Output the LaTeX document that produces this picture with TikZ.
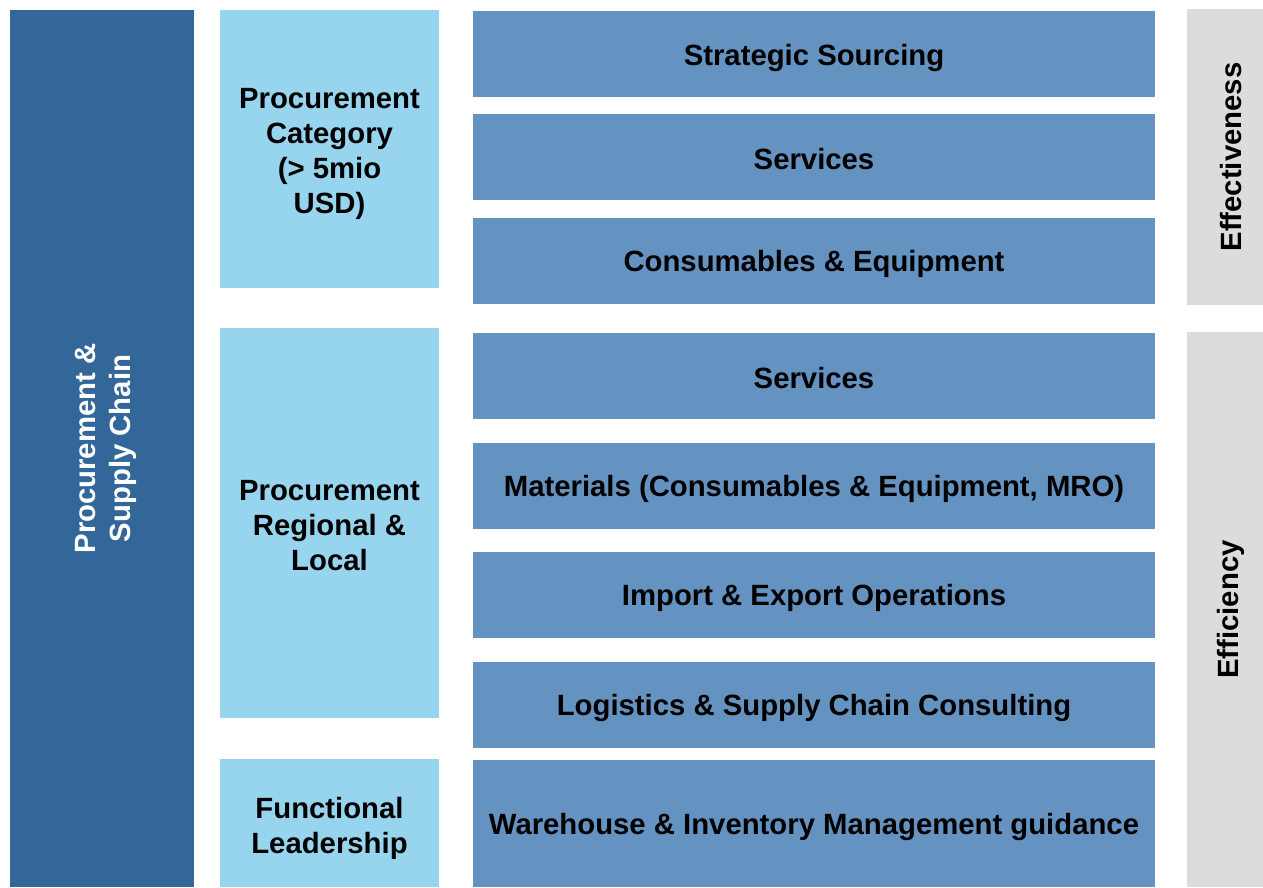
\documentclass[tikz,border=0pt]{standalone}
\usepackage{fontspec}
\setmainfont{Liberation Sans}
\definecolor{darkblue}{HTML}{336699}
\definecolor{lightblue}{HTML}{97D5EF}
\definecolor{midblue}{HTML}{6593C1}
\definecolor{greybox}{HTML}{DCDCDC}
\begin{document}
\begin{tikzpicture}[x=1pt,y=-1pt,
  base/.style={inner sep=0pt, outer sep=0pt, draw=none, align=center,
    font=\fontsize{29.3}{35}\selectfont\bfseries},
  pillar/.style={base, fill=darkblue},
  group/.style={base, fill=lightblue, anchor=north west, minimum width=219pt},
  item/.style={base, fill=midblue, anchor=north west, minimum width=682pt},
  side/.style={base, fill=greybox, anchor=north west, minimum width=76pt},
  lbl/.style={base, text=black},
  vlabel/.style={base, rotate=90}]
\useasboundingbox (0,0) rectangle (1263,887);
% left pillar
\node[pillar, anchor=north west, minimum width=184pt, minimum height=877pt] (pil) at (10,10) {};
\node[vlabel, text=white] (pilt) at ([xshift=4pt]pil.center) {Procurement \&\\Supply Chain};
% groups
\node[group, minimum height=278pt] (g1) at (220,10) {};
\node[lbl] (g1t) at ([yshift=-5pt]g1.center) {Procurement\\Category\\(> 5mio\\USD)};
\node[group, minimum height=390pt] (g2) at (220,328) {};
\node[lbl] (g2t) at ([yshift=-3pt]g2.center) {Procurement\\Regional \&\\Local};
\node[group, minimum height=128pt] (g3) at (220,759) {};
\node[lbl] (g3t) at ([yshift=-5pt]g3.center) {Functional\\Leadership};
% items
\node[item, minimum height=86pt] (i1) at (473,11) {};
\node[lbl] (i1t) at ([yshift=-4pt]i1.center) {Strategic Sourcing};
\node[item, minimum height=86pt] (i2) at (473,114) {};
\node[lbl] (i2t) at ([yshift=-2pt]i2.center) {Services};
\node[item, minimum height=86pt] (i3) at (473,218) {};
\node[lbl] (i3t) at ([yshift=-3pt]i3.center) {Consumables \& Equipment};
\node[item, minimum height=86pt] (i4) at (473,333) {};
\node[lbl] (i4t) at ([yshift=-2pt]i4.center) {Services};
\node[item, minimum height=86pt] (i5) at (473,443) {};
\node[lbl] (i5t) at ([yshift=-3pt]i5.center) {Materials (Consumables \& Equipment, MRO)};
\node[item, minimum height=86pt] (i6) at (473,552) {};
\node[lbl] (i6t) at ([yshift=-3pt]i6.center) {Import \& Export Operations};
\node[item, minimum height=86pt] (i7) at (473,662) {};
\node[lbl] (i7t) at ([yshift=-3pt]i7.center) {Logistics \& Supply Chain Consulting};
\node[item, minimum height=127pt] (i8) at (473,760) {};
\node[lbl] (i8t) at ([yshift=-3pt]i8.center) {Warehouse \& Inventory Management guidance};
% side labels
\node[side, minimum height=296pt] (s1) at (1187,9) {};
\node[vlabel] (s1t) at ([xshift=6pt]s1.center) {Effectiveness};
\node[side, minimum height=555pt] (s2) at (1187,332) {};
\node[vlabel] (s2t) at ([xshift=6pt]s2.center) {Efficiency};
\end{tikzpicture}
\end{document}
